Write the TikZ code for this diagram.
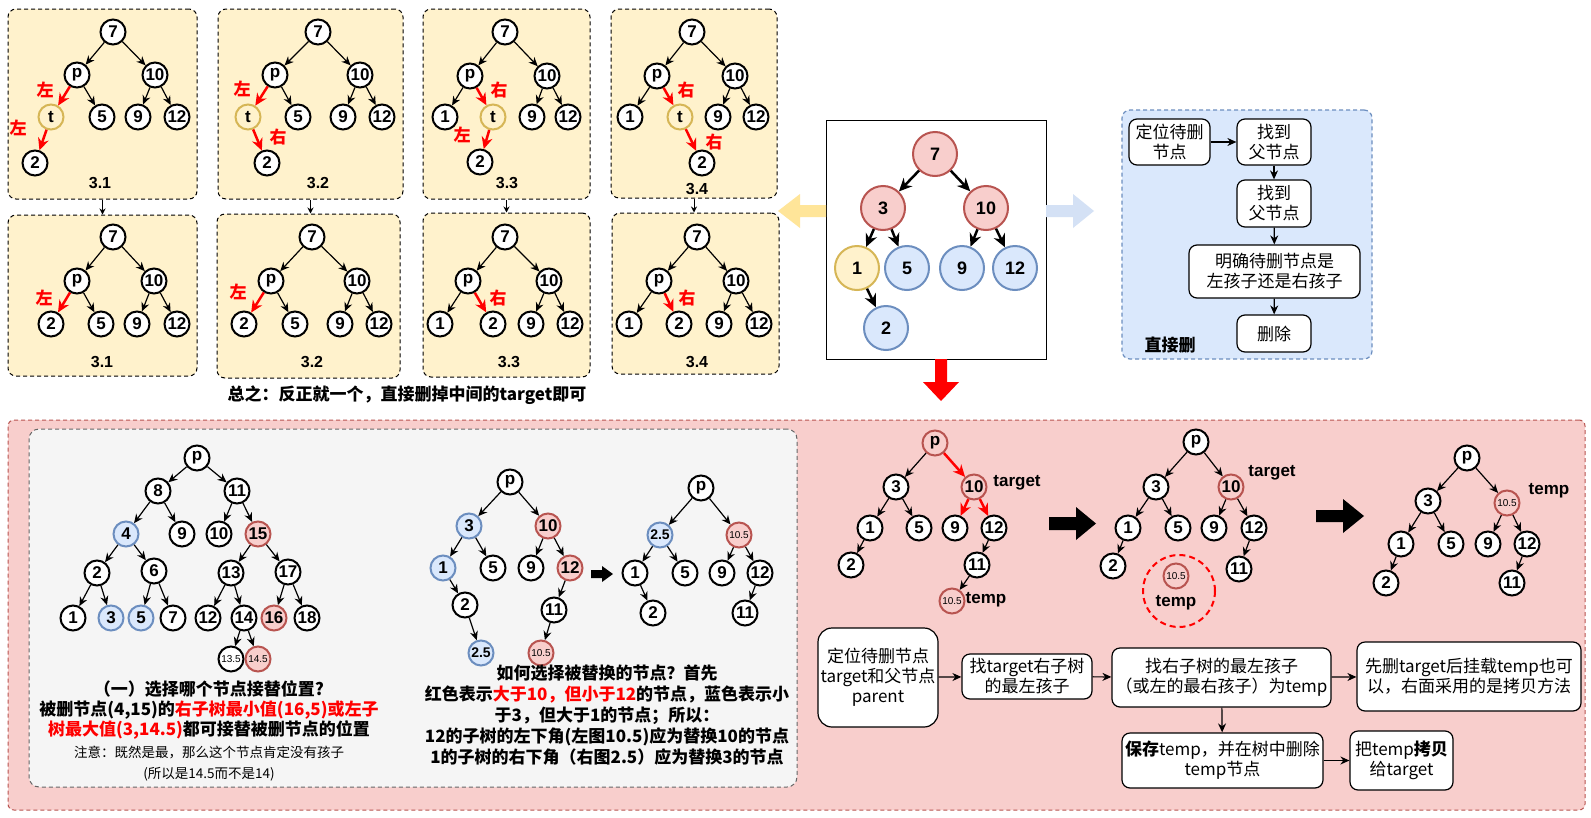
\documentclass[tikz,border=0pt]{standalone}
\usepackage{fontspec}
\setmainfont{Liberation Sans}
\newfontfamily\cjk{Noto Sans CJK SC}
\usetikzlibrary{arrows.meta}
\definecolor{yfill}{HTML}{FFF2CC}
\definecolor{ydraw}{HTML}{D6B656}
\definecolor{bfill}{HTML}{DAE8FC}
\definecolor{bdraw}{HTML}{6C8EBF}
\definecolor{rfill}{HTML}{F8CECC}
\definecolor{rdraw}{HTML}{B85450}
\definecolor{gfill}{HTML}{F5F5F5}
\definecolor{gdraw}{HTML}{666666}
\definecolor{yarrow}{HTML}{FFE599}
\definecolor{barrow}{HTML}{D4E1F5}
\begin{document}
\begin{tikzpicture}[x=1pt,y=-1pt,
  nd/.style={circle,draw=black,line width=2pt,fill=white,minimum size=25pt,inner sep=0pt,font=\bfseries\fontsize{17}{17}\selectfont},
  ndy/.style={nd,draw=ydraw,fill=yfill},
  ndb/.style={nd,draw=bdraw,fill=bfill},
  ndr/.style={nd,draw=rdraw,fill=rfill},
  smtxt/.style={font=\fontsize{10}{10}\selectfont},
  midtxt/.style={font=\bfseries\fontsize{14}{14}\selectfont},
  bignd/.style={nd,minimum size=44pt,font=\bfseries\fontsize{18}{18}\selectfont},
  ed/.style={-{Stealth[length=9pt,width=8pt]},line width=1.2pt},
  edr/.style={-{Stealth[length=12pt,width=11pt]},line width=2.5pt,red},
  edz/.style={-{Stealth[length=13pt,width=12pt]},line width=2.5pt},
  panel/.style={draw=black,line width=1pt,dash pattern=on 4pt off 3pt,fill=yfill,rounded corners=8pt,inner sep=0pt},
  lab/.style={font=\cjk\bfseries\fontsize{17}{17}\selectfont,text=red},
  captxt/.style={font=\bfseries\fontsize{16}{16}\selectfont},
  fbox/.style={draw=black,line width=1.2pt,fill=white,rounded corners=8pt,align=center,inner sep=0pt,font=\cjk\fontsize{17}{20}\selectfont},
  ar/.style={-{Stealth[length=9pt,width=8pt]},line width=1.2pt},
  ar2/.style={-{Stealth[length=6pt,width=6pt]},line width=1pt},
  lbl/.style={font=\bfseries\fontsize{17}{17}\selectfont},
]
\useasboundingbox (0,0) rectangle (1591,817);
\fill[white] (0,0) rectangle (1591,817);

% ---------------- top panels ----------------
\node[panel,minimum width=189pt,minimum height=190pt] (P1) at (102.5,104) {};
\node[panel,minimum width=185pt,minimum height=190pt] (P2) at (310.5,104) {};
\node[panel,minimum width=167pt,minimum height=190pt] (P3) at (506.5,104) {};
\node[panel,minimum width=166pt,minimum height=189pt] (P4) at (694,103.5) {};
\node[panel,minimum width=189pt,minimum height=161pt] (Q1) at (102.5,295.5) {};
\node[panel,minimum width=183pt,minimum height=164pt] (Q2) at (308.5,296) {};
\node[panel,minimum width=167pt,minimum height=164pt] (Q3) at (506.5,295) {};
\node[panel,minimum width=167pt,minimum height=161pt] (Q4) at (695.5,293.5) {};
\foreach \i in {1,2,3,4} \draw[ar2] (P\i.south) -- (P\i.south |- Q\i.north);

% panel 3.1
\node[nd] (a7) at (113,32) {7};
\node[nd] (ap) at (77,75) {p};
\node[nd] (a10) at (155,75) {10};
\node[ndy] (at) at (51,117) {t};
\node[nd] (a5) at (102,117) {5};
\node[nd] (a9) at (138,117) {9};
\node[nd] (a12) at (177,117) {12};
\node[nd] (a2) at (35,163) {2};
\node[lab] (al1) at (45,90) {左};
\node[lab] (al2) at (18,128) {左};
\node[captxt] (ac) at (100,183) {3.1};
% panel 3.2
\node[nd] (b7) at (318,32) {7};
\node[nd] (bp) at (275,75) {p};
\node[nd] (b10) at (360,75) {10};
\node[ndy] (bt) at (248,117) {t};
\node[nd] (b5) at (298,117) {5};
\node[nd] (b9) at (343,117) {9};
\node[nd] (b12) at (382,117) {12};
\node[nd] (b2) at (267,163) {2};
\node[lab] (bl1) at (242,89) {左};
\node[lab] (bl2) at (278,137) {右};
\node[captxt] (bc) at (318,183) {3.2};
% panel 3.3
\node[nd] (c7) at (505,32) {7};
\node[nd] (cp) at (470,76) {p};
\node[nd] (c10) at (547,76) {10};
\node[nd] (c1) at (445,117) {1};
\node[ndy] (ct) at (493,117) {t};
\node[nd] (c9) at (532,117) {9};
\node[nd] (c12) at (568,117) {12};
\node[nd] (c2) at (480,162) {2};
\node[lab] (cl1) at (499,90) {右};
\node[lab] (cl2) at (462,135) {左};
\node[captxt] (cc) at (507,183) {3.3};
% panel 3.4
\node[nd] (d7) at (692,32) {7};
\node[nd] (dp) at (657,76) {p};
\node[nd] (d10) at (735,76) {10};
\node[nd] (d1) at (630,117) {1};
\node[ndy] (dt) at (680,117) {t};
\node[nd] (d9) at (718,117) {9};
\node[nd] (d12) at (756,117) {12};
\node[nd] (d2) at (702,163) {2};
\node[lab] (dl1) at (686,90) {右};
\node[lab] (dl2) at (714,142) {右};
\node[captxt] (dc) at (697,189) {3.4};

\foreach \s/\t in {a7/ap,a7/a10,ap/a5,a10/a9,a10/a12,
                   b7/bp,b7/b10,bp/b5,b10/b9,b10/b12,
                   c7/cp,c7/c10,cp/c1,c10/c9,c10/c12,
                   d7/dp,d7/d10,dp/d1,d10/d9,d10/d12}
  \draw[ed] (\s) -- (\t);
\foreach \s/\t in {ap/at,at/a2,bp/bt,bt/b2,cp/ct,ct/c2,dp/dt,dt/d2}
  \draw[edr] (\s) -- (\t);

% bottom panels
\node[nd] (e7) at (113,237) {7};
\node[nd] (ep) at (77,281) {p};
\node[nd] (e10) at (154,281) {10};
\node[nd] (e2) at (51,324) {2};
\node[nd] (e5) at (101,324) {5};
\node[nd] (e9) at (137,324) {9};
\node[nd] (e12) at (177,324) {12};
\node[lab] (el) at (44,298) {左};
\node[captxt] (ec) at (102,362) {3.1};

\node[nd] (f7) at (312,237) {7};
\node[nd] (fp) at (271,281) {p};
\node[nd] (f10) at (357,281) {10};
\node[nd] (f2) at (244,324) {2};
\node[nd] (f5) at (295,324) {5};
\node[nd] (f9) at (340,324) {9};
\node[nd] (f12) at (379,324) {12};
\node[lab] (fl) at (238,292) {左};
\node[captxt] (fc) at (312,362) {3.2};

\node[nd] (h7) at (505,237) {7};
\node[nd] (hp) at (468,281) {p};
\node[nd] (h10) at (549,281) {10};
\node[nd] (h1) at (440,324) {1};
\node[nd] (h2) at (493,324) {2};
\node[nd] (h9) at (531,324) {9};
\node[nd] (h12) at (570,324) {12};
\node[lab] (hl) at (498,298) {右};
\node[captxt] (hc) at (509,362) {3.3};

\node[nd] (k7) at (697,237) {7};
\node[nd] (kp) at (659,281) {p};
\node[nd] (k10) at (736,281) {10};
\node[nd] (k1) at (629,324) {1};
\node[nd] (k2) at (679,324) {2};
\node[nd] (k9) at (719,324) {9};
\node[nd] (k12) at (759,324) {12};
\node[lab] (kl) at (687,298) {右};
\node[captxt] (kc) at (697,362) {3.4};

\foreach \s/\t in {e7/ep,e7/e10,ep/e5,e10/e9,e10/e12,
                   f7/fp,f7/f10,fp/f5,f10/f9,f10/f12,
                   h7/hp,h7/h10,hp/h1,h10/h9,h10/h12,
                   k7/kp,k7/k10,kp/k1,k10/k9,k10/k12}
  \draw[ed] (\s) -- (\t);
\foreach \s/\t in {ep/e2,fp/f2,hp/h2,kp/k2}
  \draw[edr] (\s) -- (\t);

\node[font=\cjk\bfseries\fontsize{17}{17}\selectfont] (sum) at (407,395) {总之：反正就一个，直接删掉中间的target即可};

% ---------------- center box ----------------
\node[draw=black,line width=1pt,fill=white,minimum width=220pt,minimum height=239pt,inner sep=0pt] (C) at (936,239.5) {};
\node[bignd,draw=rdraw,fill=rfill] (z7) at (935,154) {7};
\node[bignd,draw=rdraw,fill=rfill] (z3) at (883,208) {3};
\node[bignd,draw=rdraw,fill=rfill] (z10) at (986,208) {10};
\node[bignd,draw=ydraw,fill=yfill] (z1) at (857,268) {1};
\node[bignd,draw=bdraw,fill=bfill] (z5) at (907,268) {5};
\node[bignd,draw=bdraw,fill=bfill] (z9) at (962,268) {9};
\node[bignd,draw=bdraw,fill=bfill] (z12) at (1015,268) {12};
\node[bignd,draw=bdraw,fill=bfill] (z2) at (886,328) {2};
\foreach \s/\t in {z7/z3,z7/z10,z3/z1,z3/z5,z10/z9,z10/z12,z1/z2}
  \draw[edz] (\s) -- (\t);

% flat arrows
\fill[yarrow] (826,205) -- (800,205) -- (800,194) -- (778,211) -- (800,228) -- (800,217) -- (826,217) -- cycle;
\fill[barrow] (1046,205) -- (1073,205) -- (1073,194) -- (1094,211) -- (1073,228) -- (1073,217) -- (1046,217) -- cycle;
\fill[red] (935,359) -- (947,359) -- (947,382) -- (959,382) -- (941,401) -- (923,382) -- (935,382) -- cycle;

% ---------------- blue box ----------------
\node[draw=bdraw,line width=1.2pt,dash pattern=on 4pt off 3pt,fill=bfill,rounded corners=8pt,minimum width=250pt,minimum height=249pt,inner sep=0pt] (BB) at (1247,234.5) {};
\node[fbox,minimum width=81pt,minimum height=46pt] (bb1) at (1169.5,142) {定位待删\\节点};
\node[fbox,minimum width=74pt,minimum height=46pt] (bb2) at (1274,142) {找到\\父节点};
\node[fbox,minimum width=74pt,minimum height=47pt] (bb3) at (1274,203.5) {找到\\父节点};
\node[fbox,minimum width=171pt,minimum height=53pt] (bb4) at (1274.5,271.5) {明确待删节点是\\左孩子还是右孩子};
\node[fbox,minimum width=74pt,minimum height=37pt] (bb5) at (1274,333.5) {删除};
\node[font=\cjk\bfseries\fontsize{17}{17}\selectfont] (bbl) at (1170,345) {直接删};
\draw[ar] (bb1) -- (bb2);
\draw[ar] (bb2) -- (bb3);
\draw[ar] (bb3) -- (bb4);
\draw[ar] (bb4) -- (bb5);

% ---------------- pink box ----------------
\node[draw=rdraw,line width=1pt,dash pattern=on 4pt off 3pt,fill=rfill,rounded corners=6pt,minimum width=1577pt,minimum height=390pt,inner sep=0pt] (RB) at (796.5,615) {};
\node[draw=gdraw,line width=1pt,dash pattern=on 4pt off 3pt,fill=gfill,rounded corners=10pt,minimum width=768pt,minimum height=358pt,inner sep=0pt] (GB) at (413,608) {};

% gray tree 1
\node[nd] (mp) at (197,458) {p};
\node[nd] (m8) at (158,491) {8};
\node[nd] (m11) at (237,491) {11};
\node[ndb] (m4) at (126,534) {4};
\node[nd] (m9) at (182,534) {9};
\node[nd] (m10) at (219,534) {10};
\node[ndr] (m15) at (258,534) {15};
\node[nd] (m2) at (97,573) {2};
\node[nd] (m6) at (154,571) {6};
\node[nd] (m13) at (231,573) {13};
\node[nd] (m17) at (288,572) {17};
\node[nd] (m1) at (73,618) {1};
\node[ndb] (m3) at (111,618) {3};
\node[ndb] (m5) at (141,618) {5};
\node[nd] (m7) at (173,618) {7};
\node[nd] (m12) at (208,618) {12};
\node[nd] (m14) at (244,618) {14};
\node[ndr] (m16) at (274,618) {16};
\node[nd] (m18) at (307,618) {18};
\node[nd,smtxt] (m135) at (231,659) {13.5};
\node[ndr,smtxt] (m145) at (258,659) {14.5};
\foreach \s/\t in {mp/m8,mp/m11,m8/m4,m8/m9,m11/m10,m11/m15,m4/m2,m4/m6,m15/m13,m15/m17,
                   m2/m1,m2/m3,m6/m5,m6/m7,m13/m12,m13/m14,m17/m16,m17/m18,m14/m135,m14/m145}
  \draw[ed] (\s) -- (\t);

% gray tree 2
\node[nd] (np) at (510,482) {p};
\node[ndb] (n3) at (469,526) {3};
\node[ndr] (n10) at (548,526) {10};
\node[ndb] (n1) at (443,568) {1};
\node[nd] (n5) at (493,568) {5};
\node[nd] (n9) at (531,568) {9};
\node[ndr] (n12) at (570,568) {12};
\node[nd] (n2) at (465,605) {2};
\node[nd] (n11) at (554,610) {11};
\node[ndb,midtxt] (n25) at (481,653) {2.5};
\node[ndr,smtxt] (n105) at (541,653) {10.5};
\foreach \s/\t in {np/n3,np/n10,n3/n1,n3/n5,n10/n9,n10/n12,n1/n2,n12/n11,n2/n25,n11/n105}
  \draw[ed] (\s) -- (\t);
\fill (591,570) -- (602,570) -- (602,566) -- (613,574) -- (602,582) -- (602,578) -- (591,578) -- cycle;

% gray tree 3
\node[nd] (op) at (701,488) {p};
\node[ndb,midtxt] (o25) at (660,535) {2.5};
\node[ndr,smtxt] (o105) at (739,535) {10.5};
\node[nd] (o1) at (635,573) {1};
\node[nd] (o5) at (685,573) {5};
\node[nd] (o9) at (722,573) {9};
\node[nd] (o12) at (760,573) {12};
\node[nd] (o2) at (653,613) {2};
\node[nd] (o11) at (745,613) {11};
\foreach \s/\t in {op/o25,op/o105,o25/o1,o25/o5,o105/o9,o105/o12,o1/o2,o12/o11}
  \draw[ed] (\s) -- (\t);

% gray box texts
\node[font=\cjk\bfseries\fontsize{17}{20}\selectfont,align=center] (gt1) at (209,710) {（一）选择哪个节点接替位置?\\被删节点(4,15)的\textcolor{red}{右子树最小值(16,5)或左子}\\\textcolor{red}{树最大值(3,14.5)}都可接替被删节点的位置};
\node[font=\cjk\fontsize{13.5}{21}\selectfont,align=center] (gt2) at (209,764) {注意：既然是最，那么这个节点肯定没有孩子\\(所以是14.5而不是14)};
\node[font=\cjk\bfseries\fontsize{17}{21}\selectfont,align=center] (gt3) at (607,715) {如何选择被替换的节点？首先\\红色表示\textcolor{red}{大于10，但小于12}的节点，蓝色表示小\\于3，但大于1的节点；所以：\\12的子树的左下角(左图10.5)应为替换10的节点\\1的子树的右下角（右图2.5）应为替换3的节点};

% pink tree A
\node[nd,draw=rdraw,fill=rfill] (rp) at (935,443) {p};
\node[nd] (r3) at (896,487) {3};
\node[ndr] (r10) at (974,487) {10};
\node[nd] (r1) at (870,528) {1};
\node[nd] (r5) at (919,528) {5};
\node[nd] (r9) at (955,528) {9};
\node[nd] (r12) at (994,528) {12};
\node[nd] (r2) at (851,565) {2};
\node[nd] (r11) at (977,565) {11};
\node[ndr,smtxt] (r105) at (952,601) {10.5};
\node[lbl] (rt1) at (1017,483) {target};
\node[lbl] (rt2) at (986,600) {temp};
\foreach \s/\t in {rp/r3,r3/r1,r3/r5,r1/r2,r12/r11,r11/r105}
  \draw[ed] (\s) -- (\t);
\foreach \s/\t in {rp/r10,r10/r9,r10/r12}
  \draw[edr] (\s) -- (\t);
\fill (1049,517) -- (1076,517) -- (1076,507) -- (1096,523.5) -- (1076,540) -- (1076,530) -- (1049,530) -- cycle;

% pink tree B
\node[nd] (sp) at (1196,442) {p};
\node[nd] (s3) at (1156,487) {3};
\node[ndr] (s10) at (1231,487) {10};
\node[nd] (s1) at (1128,528) {1};
\node[nd] (s5) at (1178,528) {5};
\node[nd] (s9) at (1214,528) {9};
\node[nd] (s12) at (1254,528) {12};
\node[nd] (s2) at (1113,566) {2};
\node[nd] (s11) at (1239,569) {11};
\node[lbl] (st1) at (1272,473) {target};
\draw[red,line width=2pt,dash pattern=on 6pt off 4pt] (1179,591) circle (36);
\node[ndr,smtxt] (s105) at (1176,576) {10.5};
\node[lbl] (st2) at (1176,603) {temp};
\foreach \s/\t in {sp/s3,sp/s10,s3/s1,s3/s5,s10/s9,s10/s12,s1/s2,s12/s11}
  \draw[ed] (\s) -- (\t);
\fill (1316,510) -- (1343,510) -- (1343,499) -- (1364,516) -- (1343,533) -- (1343,522) -- (1316,522) -- cycle;

% pink tree C
\node[nd] (up) at (1467,458) {p};
\node[nd] (u3) at (1428,501) {3};
\node[ndr,smtxt] (u105) at (1507,503) {10.5};
\node[nd] (u1) at (1401,544) {1};
\node[nd] (u5) at (1451,544) {5};
\node[nd] (u9) at (1488,544) {9};
\node[nd] (u12) at (1527,544) {12};
\node[nd] (u2) at (1386,583) {2};
\node[nd] (u11) at (1512,583) {11};
\node[lbl] (ut) at (1549,491) {temp};
\foreach \s/\t in {up/u3,up/u105,u3/u1,u3/u5,u105/u9,u105/u12,u1/u2,u12/u11}
  \draw[ed] (\s) -- (\t);

% bottom flow
\node[fbox,rounded corners=14pt,minimum width=120pt,minimum height=99pt] (F1) at (878,677.5) {定位待删节点\\target和父节点\\parent};
\node[fbox,minimum width=130pt,minimum height=45pt] (F2) at (1027,676.5) {找target右子树\\的最左孩子};
\node[fbox,minimum width=219pt,minimum height=59pt] (F3) at (1221.5,677.5) {找右子树的最左孩子\\（或左的最右孩子）为temp};
\node[fbox,minimum width=224pt,minimum height=69pt] (F4) at (1469,676.5) {先删target后挂载temp也可\\以，右面采用的是拷贝方法};
\node[fbox,minimum width=201pt,minimum height=55pt] (F5) at (1222.5,760.5) {\textbf{保存}temp，并在树中删除\\temp节点};
\node[fbox,minimum width=103pt,minimum height=59pt] (F6) at (1401.5,760.5) {把temp\textbf{拷贝}\\给target};
\draw[ar] (F1) -- (F2);
\draw[ar] (F2) -- (F3);
\draw[ar] (F3) -- (F4);
\draw[ar] (F3) -- (F5);
\draw[ar] (F5) -- (F6);
\end{tikzpicture}
\end{document}
